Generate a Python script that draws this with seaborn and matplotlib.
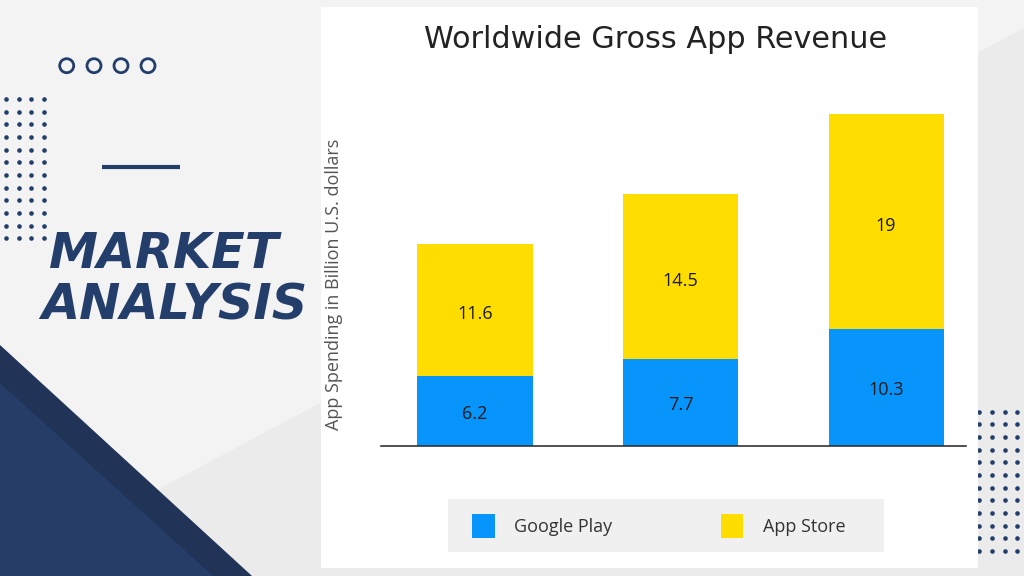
import numpy as np
import pandas as pd
import matplotlib.pyplot as plt
from matplotlib.patches import Polygon, Rectangle, Circle, Patch
import seaborn as sns

# data
periods = ['Period 1', 'Period 2', 'Period 3']
google_play = [6.2, 7.7, 10.3]
app_store = [11.6, 14.5, 19]

series_names = ['Google Play', 'App Store']
blue = '#0795fb'
yellow = '#ffdd00'
navy = '#243e6b'

sns.set_theme(style='white')
plt.rcParams['font.family'] = ['Open Sans', 'DejaVu Sans']

fig = plt.figure(figsize=(10.24, 5.76), dpi=100)
fig.patch.set_facecolor('#f3f3f3')

# slide decoration, drawn in pixel coords
bg = fig.add_axes([0, 0, 1, 1], zorder=0)
bg.set_xlim(0, 1024)
bg.set_ylim(576, 0)
bg.axis('off')

bg.add_patch(Polygon([(157, 490), (1024, 28), (1024, 576), (250, 576)], color='#ebebeb', lw=0))
bg.add_patch(Polygon([(0, 345), (252, 576), (0, 576)], color='#213356', lw=0))
bg.add_patch(Polygon([(0, 383), (213, 576), (0, 576)], color='#253d67', lw=0))

# dot grids
gx, gy = np.meshgrid(np.arange(4) * 12.6, np.arange(12) * 12.67)
bg.scatter(6 + gx.ravel(), 99 + gy.ravel(), s=11, color=navy, lw=0)
bg.scatter(979.3 + gx.ravel(), 411.7 + gy.ravel(), s=11, color=navy, lw=0)

for cx in [66.7, 94, 121, 148]:
    bg.add_patch(Circle((cx, 65.7), 7.0, fill=False, edgecolor=navy, lw=2.0))
bg.plot([102, 180], [166.7, 166.7], color=navy, lw=3, solid_capstyle='butt')

bg.text(49, 268, 'MARKET', fontsize=35.5, fontweight='bold', fontstyle='oblique',
        family='DejaVu Sans', color=navy, va='baseline', ha='left')
bg.text(41, 320, 'ANALYSIS', fontsize=35.5, fontweight='bold', fontstyle='oblique',
        family='DejaVu Sans', color=navy, va='baseline', ha='left')

# white chart card + legend strip
bg.add_patch(Rectangle((321, 7), 657, 561, color='white', lw=0))
bg.add_patch(Rectangle((448, 499), 436, 53, color='#f0f0f0', lw=0))

# chart
df = pd.DataFrame({'period': periods, 'Google Play': google_play, 'App Store': app_store})
df['total'] = df['Google Play'] + df['App Store']

ax = fig.add_axes([381 / 1024, 130 / 576, 585 / 1024, 346 / 576], zorder=2)
ax.patch.set_alpha(0)
sns.barplot(data=df, x='period', y='total', color=yellow, saturation=1,
            width=0.56, errorbar=None, linewidth=0, ax=ax)
sns.barplot(data=df, x='period', y='Google Play', color=blue, saturation=1,
            width=0.56, errorbar=None, linewidth=0, ax=ax)
ax.set_xlim(-0.4574, 2.389)
ax.set_ylim(0, 30.5)

for i, (g, a) in enumerate(zip(google_play, app_store)):
    ax.text(i, g / 2 - 0.25, f'{g:g}', ha='center', va='center', fontsize=13, color='#1a1a1a')
    ax.text(i, g + a / 2 - 0.4, f'{a:g}', ha='center', va='center', fontsize=13, color='#1a1a1a')

sns.despine(ax=ax, left=True)
ax.spines['bottom'].set_color('#333')
ax.spines['bottom'].set_linewidth(1.2)
ax.tick_params(bottom=False, labelbottom=False, left=False, labelleft=False)
ax.set_xlabel('')
ax.set_ylabel('App Spending in Billion U.S. dollars', fontsize=13, color='#555')
ax.yaxis.set_label_coords(-0.065, 0.467)

fig.text(655.7 / 1024, 1 - 48 / 576, 'Worldwide Gross App Revenue', ha='center',
         va='baseline', fontsize=21.8, color='#222', family='DejaVu Sans')

handles = [Patch(facecolor=c, edgecolor='none', label=n) for c, n in zip([blue, yellow], series_names)]
leg = fig.legend(handles=handles, loc='center left',
                 bbox_to_anchor=(472 / 1024, 1 - 525.8 / 576),
                 ncol=2, frameon=False, fontsize=13, handlelength=1.25, handleheight=1.7,
                 handletextpad=1.1, columnspacing=6.0, borderpad=0, borderaxespad=0)
leg.set_zorder(3)
for t in leg.get_texts():
    t.set_color('#333')

fig.savefig('out.png', dpi=100, facecolor=fig.get_facecolor())
